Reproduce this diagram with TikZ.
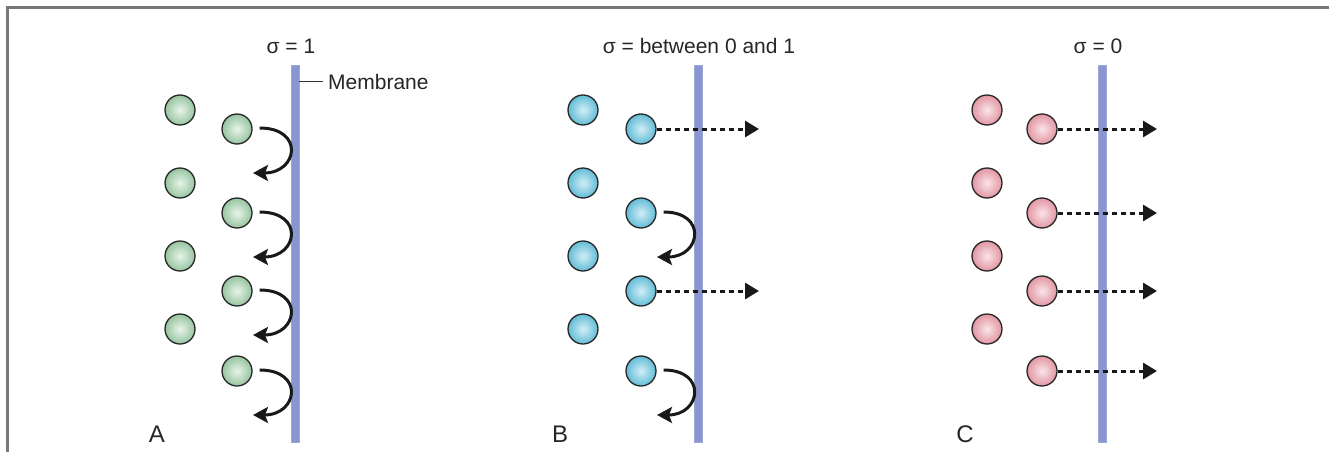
\documentclass[tikz,border=0pt]{standalone}
\usepackage{fontspec}
\setmainfont{Liberation Sans}
\usetikzlibrary{arrows.meta,calc}
\definecolor{memb}{RGB}{138,150,208}
\definecolor{framegray}{RGB}{120,120,120}
\definecolor{ballline}{RGB}{40,40,40}
\definecolor{gout}{RGB}{150,196,160}
\definecolor{gin}{RGB}{232,244,234}
\definecolor{bout}{RGB}{98,188,214}
\definecolor{bin}{RGB}{210,238,246}
\definecolor{pout}{RGB}{226,150,162}
\definecolor{pin}{RGB}{250,228,232}
\definecolor{arrowc}{RGB}{25,25,25}
\tikzset{
  ball/.style 2 args={circle, minimum size=30pt, inner sep=0pt, draw=ballline, line width=1.3pt, inner color=#1, outer color=#2},
  gball/.style={ball={gin}{gout}},
  bball/.style={ball={bin}{bout}},
  pball/.style={ball={pin}{pout}},
  membrane/.style={rectangle, fill=memb, draw=memb!85!white, line width=0.6pt, minimum width=8pt, minimum height=377pt, inner sep=0pt},
  title/.style={anchor=base, inner sep=0pt, font=\fontsize{21}{25}\selectfont, text=black!85},
  panel/.style={anchor=base, inner sep=0pt, font=\fontsize{24}{28}\selectfont, text=black!85},
  curvearrow/.style={draw=arrowc, line width=3pt, -{Stealth[length=15pt,width=16pt,inset=3pt]}},
  dotarrow/.style={draw=arrowc, line width=3pt, dash pattern=on 5pt off 4pt, -{Triangle[length=14pt,width=16pt]}},
}
\begin{document}
\begin{tikzpicture}[x=1pt,y=-1pt]
\useasboundingbox (0,0) rectangle (1329,452);
% frame
\draw[framegray, line width=3pt] (7.5,452) -- (7.5,7.5) -- (1329,7.5);

% membranes
\node[membrane] (mA) at (295,253.5) {};
\node[membrane] (mB) at (698,253.5) {};
\node[membrane] (mC) at (1102,253.5) {};

% titles
\node[title] (tA) at (291,54) {σ = 1};
\node[title] (tB) at (699,54) {σ = between 0 and 1};
\node[title] (tC) at (1098,54) {σ = 0};

% membrane label
\node[anchor=base west, inner sep=0pt, font=\fontsize{21}{25}\selectfont, text=black!85] (mlab) at (328,89) {Membrane};
\coordinate (mlabstart) at ($(mlab.west)+(-5,0)$);
\draw[black!80, line width=1.2pt] (mlabstart) -- (mlabstart -| mA.east);

% panel letters
\node[panel] (pA) at (157,442) {A};
\node[panel] (pB) at (560,442) {B};
\node[panel] (pC) at (965,442) {C};

% left columns of balls
\foreach \i/\y in {1/110,2/183,3/256,4/329}{
  \node[gball] (LA\i) at (180,\y) {};
  \node[bball] (LB\i) at (583,\y) {};
  \node[pball] (LC\i) at (987,\y) {};
}
% right columns of balls
\foreach \i/\y in {1/129,2/213,3/291,4/371}{
  \node[gball] (A\i) at (237,\y) {};
  \node[bball] (B\i) at (641,\y) {};
  \node[pball] (C\i) at (1042,\y) {};
}

% panel A: all reflected
\foreach \i in {1,2,3,4}{
  \coordinate (eA\i) at ($(A\i)+(16,44)$);
  \draw[curvearrow] ([xshift=7pt,yshift=1pt]A\i.east) .. controls +(45,0) and +(45,0) .. (eA\i);
}

% panel B: alternating
\foreach \i in {2,4}{
  \coordinate (eB\i) at ($(B\i)+(16,44)$);
  \draw[curvearrow] ([xshift=7pt,yshift=1pt]B\i.east) .. controls +(44,0) and +(44,0) .. (eB\i);
}
\foreach \i in {1,3}{
  \coordinate (tB\i) at ($(B\i)+(118,0)$);
  \draw[dotarrow] (B\i) -- (tB\i);
}

% panel C: all pass through
\foreach \i in {1,2,3,4}{
  \coordinate (tC\i) at ($(C\i)+(115,0)$);
  \draw[dotarrow] (C\i) -- (tC\i);
}
\end{tikzpicture}
\end{document}
